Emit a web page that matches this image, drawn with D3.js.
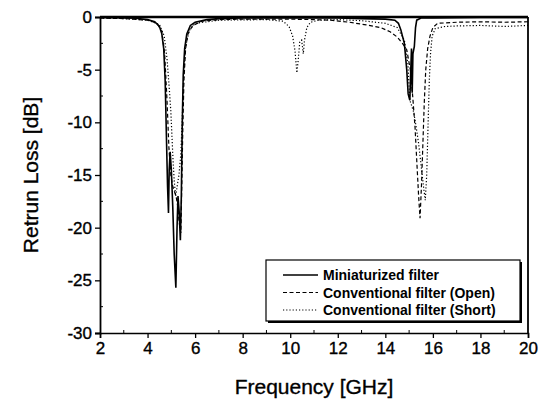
<!DOCTYPE html>
<html>
<head>
<meta charset="utf-8">
<script src="https://cdn.jsdelivr.net/npm/d3@7/dist/d3.min.js"></script>
<style>
  html, body { margin: 0; padding: 0; background: #fff; }
  svg { display: block; }
  text { font-family: "Liberation Sans", Arial, sans-serif; fill: #000; }
  .heavy { stroke: #000; stroke-width: 0.35px; }
</style>
</head>
<body>
<svg id="chart" width="547" height="402"></svg>
<script>
// Return loss of the three filter variants, [frequency GHz, S11 dB]
const miniaturized = [
  [2, -0.05], [3, -0.08], [3.5, -0.12], [4, -0.25], [4.3, -0.45], [4.5, -0.9],
  [4.6, -1.6], [4.68, -3], [4.74, -6], [4.79, -11], [4.84, -16], [4.88, -18.6],
  [4.91, -14.5], [4.95, -12.8], [5.0, -14.5], [5.06, -18], [5.12, -22.5],
  [5.19, -25.7], [5.24, -20], [5.28, -17], [5.33, -18.5], [5.38, -21.2],
  [5.42, -17], [5.46, -10], [5.5, -5.5], [5.56, -3], [5.65, -1.6], [5.8, -0.8],
  [6, -0.5], [6.5, -0.25], [7, -0.15], [8, -0.1], [10, -0.08], [12, -0.1],
  [13, -0.15], [14, -0.2], [14.4, -0.3], [14.55, -0.6], [14.65, -1.2],
  [14.8, -2.5], [14.9, -5], [14.96, -7.3], [15.03, -7.9], [15.07, -5],
  [15.1, -3], [15.13, -7.2], [15.16, -3.5], [15.22, -2.8], [15.27, -1],
  [15.32, -0.3], [15.5, -0.1], [16, -0.08], [18, -0.05], [20, -0.05]
];
const conventionalOpen = [
  [2, -0.1], [3, -0.15], [4, -0.3], [4.4, -0.6], [4.6, -1.4], [4.72, -3.5],
  [4.82, -8], [4.9, -12.5], [4.98, -15], [5.05, -16], [5.12, -16.5],
  [5.2, -17], [5.27, -18], [5.33, -19.5], [5.4, -20.5], [5.44, -16],
  [5.48, -11], [5.53, -6], [5.6, -3], [5.7, -1.6], [5.9, -0.8], [6.3, -0.4],
  [7, -0.25], [8, -0.2], [10, -0.2], [11, -0.25], [11.7, -0.3], [12.5, -0.5],
  [13.2, -0.75], [13.8, -1.0], [14.2, -1.4], [14.5, -1.9], [14.75, -2.6],
  [14.9, -3.1], [15.05, -5], [15.15, -7.5], [15.25, -10.5], [15.33, -14],
  [15.4, -17], [15.46, -19.1], [15.52, -16], [15.58, -12], [15.64, -8],
  [15.7, -5], [15.78, -3], [15.88, -1.8], [16.0, -1.0], [16.2, -0.6],
  [17, -0.5], [18, -0.45], [19, -0.5], [20, -0.45]
];
const conventionalShort = [
  [2, -0.1], [3, -0.15], [4, -0.3], [4.5, -0.7], [4.7, -1.8], [4.82, -4],
  [4.92, -7], [4.98, -9], [5.02, -11], [5.07, -13.5], [5.12, -15.5],
  [5.18, -17], [5.25, -16], [5.32, -15], [5.4, -13], [5.47, -9], [5.53, -5],
  [5.6, -2.8], [5.75, -1.3], [6, -0.6], [7, -0.3], [9, -0.25], [9.7, -0.4],
  [9.95, -0.9], [10.1, -1.8], [10.2, -3.2], [10.28, -5.3], [10.34, -4],
  [10.4, -2.4], [10.48, -2.2], [10.55, -3.5], [10.6, -2.2], [10.7, -1.0],
  [10.85, -0.5], [11.2, -0.3], [12, -0.25], [13, -0.35], [14, -0.6],
  [14.5, -1.0], [14.8, -2.2], [14.95, -4.5], [15.03, -7.9], [15.12, -8.5],
  [15.2, -9.1], [15.3, -10.5], [15.4, -12], [15.5, -14], [15.6, -16],
  [15.68, -17.4], [15.74, -15], [15.8, -10], [15.85, -6], [15.9, -3.5],
  [15.97, -1.8], [16.1, -1.1], [16.5, -0.9], [17, -0.85], [18, -0.8],
  [19, -0.9], [20, -0.8]
];

const xTicks = [2, 4, 6, 8, 10, 12, 14, 16, 18, 20];
const yTicks = [0, -5, -10, -15, -20, -25, -30];
const legendLabels = ["Miniaturized filter", "Conventional filter (Open)", "Conventional filter (Short)"];

const svg = d3.select("#chart");
const plotLeft = 100, plotRight = 528, plotTop = 17, plotBottom = 333;

const x = d3.scaleLinear().domain([2, 20]).range([plotLeft, plotRight]);
const y = d3.scaleLinear().domain([-30, 0]).range([plotBottom, plotTop]);

svg.append("defs").append("clipPath").attr("id", "plot")
  .append("rect").attr("x", plotLeft).attr("y", plotTop - 1)
  .attr("width", plotRight - plotLeft).attr("height", plotBottom - plotTop + 1);

// minor ticks (inside)
const minorX = d3.range(3, 20, 2);
svg.append("g").selectAll("line").data(minorX).join("line")
  .attr("x1", d => x(d)).attr("x2", d => x(d))
  .attr("y1", plotBottom).attr("y2", plotBottom - 3)
  .attr("stroke", "#000").attr("stroke-width", 1);
const minorY = d3.range(-27.5, 0, 5);
svg.append("g").selectAll("line").data(minorY).join("line")
  .attr("x1", plotLeft).attr("x2", plotLeft + 3)
  .attr("y1", d => y(d)).attr("y2", d => y(d))
  .attr("stroke", "#000").attr("stroke-width", 1);

// axes
const xAxis = d3.axisBottom(x).tickValues(xTicks).tickSize(5).tickPadding(4)
  .tickFormat(d3.format("d"));
const gx = svg.append("g").attr("transform", `translate(0,${plotBottom})`).call(xAxis);
gx.select(".domain").attr("stroke-width", 1.6);
gx.selectAll(".tick line").attr("stroke-width", 1.3);
gx.selectAll("text").attr("font-size", 17).attr("class", "heavy")
  .attr("font-family", "Liberation Sans, Arial, sans-serif");

const yAxis = d3.axisLeft(y).tickValues(yTicks).tickSize(5).tickPadding(3)
  .tickFormat(d => d < 0 ? "-" + Math.abs(d) : String(d));
const gy = svg.append("g").attr("transform", `translate(${plotLeft},0)`).call(yAxis);
gy.select(".domain").attr("stroke-width", 1.8);
gy.selectAll(".tick line").attr("stroke-width", 1.3);
gy.selectAll("text").attr("font-size", 17).attr("class", "heavy")
  .attr("font-family", "Liberation Sans, Arial, sans-serif");

// frame top and right
svg.append("line").attr("x1", plotLeft).attr("x2", plotRight).attr("y1", plotTop).attr("y2", plotTop)
  .attr("stroke", "#000").attr("stroke-width", 2.4);
svg.append("line").attr("x1", plotRight).attr("x2", plotRight).attr("y1", plotTop).attr("y2", plotBottom)
  .attr("stroke", "#000").attr("stroke-width", 1.8);

// curves
const line = d3.line().x(d => x(d[0])).y(d => y(d[1])).curve(d3.curveLinear);
const series = [
  { data: conventionalShort, dash: "1.2,2", width: 1.2 },
  { data: conventionalOpen, dash: "4,2.5", width: 1.2 },
  { data: miniaturized, dash: null, width: 1.6 }
];
const plot = svg.append("g").attr("clip-path", "url(#plot)");
series.forEach(s => {
  plot.append("path").datum(s.data)
    .attr("d", line).attr("fill", "none").attr("stroke", "#000")
    .attr("stroke-width", s.width)
    .attr("stroke-dasharray", s.dash);
});

// legend with drop shadow
const lg = svg.append("g");
lg.append("rect").attr("x", 268).attr("y", 262).attr("width", 254).attr("height", 61)
  .attr("fill", "#000");
lg.append("rect").attr("x", 266).attr("y", 260).attr("width", 254).attr("height", 61)
  .attr("fill", "#fff").attr("stroke", "#000").attr("stroke-width", 1.2);
const dashes = [null, "4,2.5", "1.2,2"];
legendLabels.forEach((lab, i) => {
  const yy = 275 + i * 17.5;
  lg.append("line").attr("x1", 283).attr("x2", 318).attr("y1", yy).attr("y2", yy)
    .attr("stroke", "#000").attr("stroke-width", i === 0 ? 1.5 : 1.2)
    .attr("stroke-dasharray", dashes[i]);
  lg.append("text").attr("x", 323).attr("y", yy + 5)
    .attr("font-size", 14).attr("font-weight", "bold").text(lab);
});

// axis titles
svg.append("text").attr("x", (plotLeft + plotRight) / 2).attr("y", 394)
  .attr("text-anchor", "middle").attr("font-size", 21).attr("class", "heavy")
  .text("Frequency [GHz]");
svg.append("text").attr("transform", `translate(38,${(plotTop + plotBottom) / 2}) rotate(-90)`)
  .attr("text-anchor", "middle").attr("font-size", 21).attr("class", "heavy")
  .text("Retrun Loss [dB]");
</script>
</body>
</html>
